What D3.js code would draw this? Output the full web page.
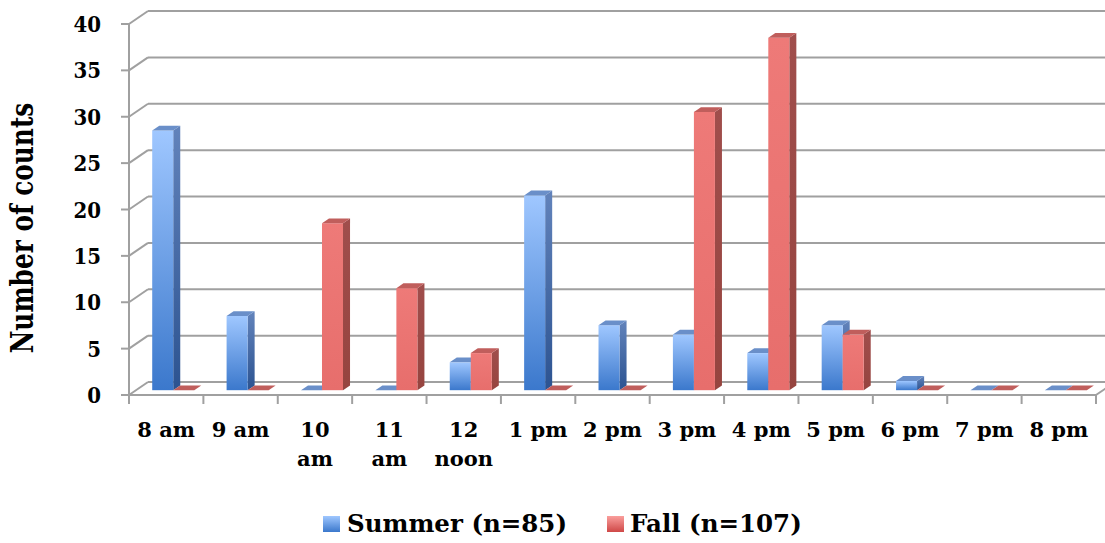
<!DOCTYPE html>
<html><head><meta charset="utf-8">
<script src="https://cdn.jsdelivr.net/npm/d3@7"></script>
<style>body{margin:0;background:#fff}svg{display:block}text{font-family:"DejaVu Serif",serif;font-weight:bold;fill:#000}</style>
</head><body><svg id="c" width="1105" height="543"></svg>
<script>
const categories = ["8 am","9 am","10 am","11 am","12 noon","1 pm","2 pm","3 pm","4 pm","5 pm","6 pm","7 pm","8 pm"];
const categoryLines = [["8 am"],["9 am"],["10","am"],["11","am"],["12","noon"],["1 pm"],["2 pm"],["3 pm"],["4 pm"],["5 pm"],["6 pm"],["7 pm"],["8 pm"]];
const seriesNames = ["Summer (n=85)","Fall (n=107)"];
const summer = [28,8,0,0,3,21,7,6,4,7,1,0,0];
const fall = [0,0,18,11,4,0,0,30,38,6,0,0,0];
const yTicks = [0,5,10,15,20,25,30,35,40];
const yTitle = "Number of counts";

const svg = d3.select("#c");
const DX = 19, DY = -13;           // depth projection
const x = d3.scaleBand().domain(categories).range([129,1096]).padding(0);
const xs = d3.scaleBand().domain(["s","f"]).range([0, x.bandwidth()]).paddingInner(0).paddingOuter(0.77);
const y = d3.scaleLinear().domain([0,40]).range([395,24]);
const P = (px, v, d) => [px + d*DX, y(v) + d*DY];

const defs = svg.append("defs");
function grad(id, stops){
  const g = defs.append("linearGradient").attr("id",id).attr("x1",0).attr("y1",0).attr("x2",0).attr("y2",1);
  stops.forEach(s=>g.append("stop").attr("offset",s[0]).attr("stop-color",s[1]));
}
grad("sFront",[[0,"#9fc7ff"],[1,"#3b78cc"]]);
grad("sSide",[[0,"#6283bb"],[1,"#2c5391"]]);
grad("fFront",[[0,"#ee7a78"],[1,"#e76e6c"]]);
grad("fSide",[[0,"#a04e4c"],[1,"#96443f"]]);
grad("sLeg",[[0,"#9fc7ff"],[1,"#3b78cc"]]);
grad("fLeg",[[0,"#fa9e9c"],[1,"#cf4847"]]);

const gridColor = "#a0a0a0";
const grid = svg.append("g").attr("stroke",gridColor).attr("stroke-width",2).attr("fill","none");
yTicks.forEach(t=>{
  const [bx,by] = P(129,t,1);
  grid.append("line").attr("x1",bx).attr("x2",P(1096,t,1)[0]).attr("y1",by).attr("y2",by);
  grid.append("line").attr("x1",129).attr("y1",y(t)).attr("x2",bx).attr("y2",by);
  grid.append("line").attr("x1",121).attr("x2",129).attr("y1",y(t)).attr("y2",y(t));
});
grid.append("line").attr("x1",129).attr("x2",129).attr("y1",y(40)).attr("y2",y(0));
grid.append("line").attr("x1",129).attr("x2",1096).attr("y1",y(0)).attr("y2",y(0));
grid.append("line").attr("x1",1096).attr("y1",y(0)).attr("x2",P(1096,0,1)[0]).attr("y2",P(1096,0,1)[1]);
d3.range(categories.length+1).forEach(i=>{
  const px = 129 + i*x.step();
  grid.append("line").attr("x1",px).attr("x2",px).attr("y1",y(0)).attr("y2",y(0)+9);
});

// bars
const D0 = 0.37, D1 = 0.74;
const bars = svg.append("g");
function bar(cat, key, v){
  const x0 = x(cat) + xs(key), x1 = x0 + xs.bandwidth();
  const isS = key==="s";
  const a = P(x0,0,D0), b = P(x1,0,D0), c = P(x0,v,D0), d = P(x1,v,D0);
  const cb = P(x0,v,D1), db = P(x1,v,D1), bb = P(x1,0,D1);
  const poly = pts => pts.map(p=>p.join(",")).join(" ");
  if (v > 0) {
    bars.append("polygon").attr("points",poly([d,db,bb,b])).attr("fill",`url(#${isS?"sSide":"fSide"})`);
    bars.append("rect").attr("x",c[0]).attr("y",c[1]).attr("width",x1-x0).attr("height",a[1]-c[1])
      .attr("fill",`url(#${isS?"sFront":"fFront"})`);
  }
  bars.append("polygon").attr("points",poly([c,d,db,cb])).attr("fill",isS?"#6a8fc9":"#c05e5c");
}
categories.forEach((cat,i)=>{ bar(cat,"s",summer[i]); bar(cat,"f",fall[i]); });

// y tick labels
svg.append("g").selectAll("text").data(yTicks).join("text")
  .attr("transform",t=>`translate(101,${y(t)+8}) scale(0.9,1)`).attr("text-anchor","end").attr("font-size",22).text(t=>t);
// category labels
const cl = svg.append("g");
categories.forEach((cat,i)=>{
  const cx = x(cat)+x.bandwidth()/2;
  const t = cl.append("text").attr("text-anchor","middle").attr("font-size",21).attr("x",cx).attr("y",437);
  categoryLines[i].forEach((ln,j)=>t.append("tspan").attr("x",cx).attr("dy",j?29:0).text(ln));
});
// y title
svg.append("text").attr("transform","translate(33,228) rotate(-90) scale(1,1.28)").attr("text-anchor","middle")
  .attr("font-size",24.8).text(yTitle);
// legend
const leg = [{x:323,tx:347,g:"sLeg"},{x:607,tx:630,g:"fLeg"}];
leg.forEach((l,i)=>{
  svg.append("rect").attr("x",l.x).attr("y",516).attr("width",17).attr("height",16).attr("fill",`url(#${l.g})`);
  svg.append("text").attr("x",l.tx).attr("y",532).attr("font-size",24.5).text(seriesNames[i]);
});
</script></body></html>
